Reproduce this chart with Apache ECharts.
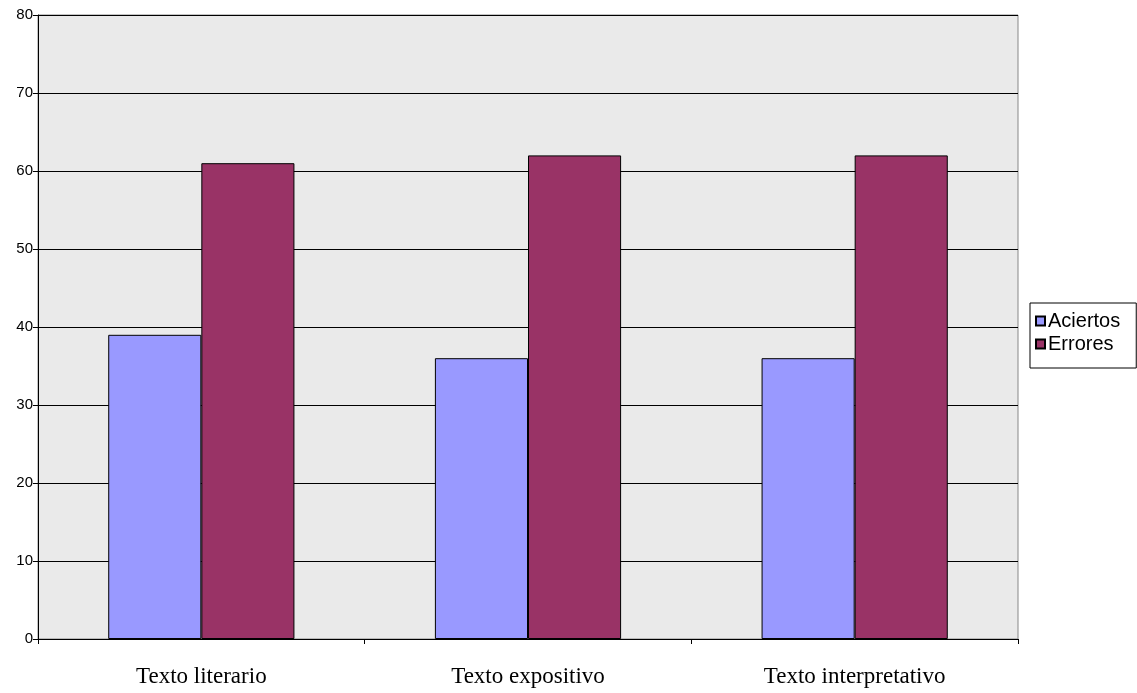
<!DOCTYPE html>
<html>
<head>
<meta charset="utf-8">
<script src="https://cdn.jsdelivr.net/npm/echarts@6/dist/echarts.min.js"></script>
<style>
  html, body { margin: 0; padding: 0; background: #fff; }
  #chart { width: 1137px; height: 693px; }
</style>
</head>
<body>
<div id="chart"></div>
<script>
var categories = ['Texto literario', 'Texto expositivo', 'Texto interpretativo'];
var aciertos = [39, 36, 36];
var errores = [61, 62, 62];

var chart = echarts.init(document.getElementById('chart'));

var option = {
    animation: false,
    backgroundColor: '#ffffff',
    grid: {
        left: 38,
        right: 119,
        top: 15,
        bottom: 54,
        show: true,
        backgroundColor: '#eaeaea',
        borderColor: '#888888',
        borderWidth: 1
    },
    legend: {
        orient: 'vertical',
        left: 1030,
        top: 303,
        padding: [8, 16, 14, 5],
        itemGap: 3,
        itemWidth: 9,
        itemHeight: 9,
        icon: 'rect',
        borderColor: '#000',
        borderWidth: 1,
        borderRadius: 0,
        textStyle: { fontFamily: 'Liberation Sans', fontSize: 20, color: '#000', padding: [0, 0, 0, -2] },
        data: ['Aciertos', 'Errores']
    },
    xAxis: {
        type: 'category',
        data: categories,
        axisLine: { lineStyle: { color: '#000', width: 1 } },
        axisTick: { show: true, length: 5, inside: false, lineStyle: { color: '#000' } },
        axisLabel: { fontFamily: 'Liberation Serif', fontSize: 23, color: '#000', margin: 26 }
    },
    yAxis: {
        type: 'value',
        min: 0,
        max: 80,
        interval: 10,
        axisLine: { show: true, lineStyle: { color: '#000', width: 1 } },
        axisTick: { show: true, length: 5, lineStyle: { color: '#000' } },
        axisLabel: { fontFamily: 'Liberation Sans', fontSize: 15, color: '#000', margin: 5 },
        splitLine: { show: true, lineStyle: { color: '#000', width: 1 } }
    },
    series: [
        {
            name: 'Aciertos',
            type: 'bar',
            data: aciertos,
            barGap: '0%',
            barCategoryGap: '43%',
            itemStyle: { color: '#9999ff', borderColor: '#000', borderWidth: 1 }
        },
        {
            name: 'Errores',
            type: 'bar',
            data: errores,
            barGap: '0%',
            barCategoryGap: '43%',
            itemStyle: { color: '#993366', borderColor: '#000', borderWidth: 1 }
        }
    ]
};

chart.setOption(option);
</script>
</body>
</html>
